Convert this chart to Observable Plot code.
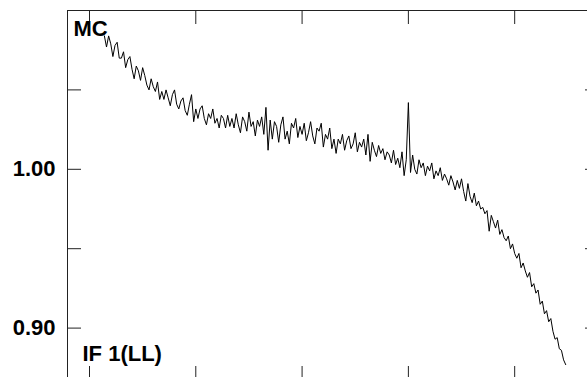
<!DOCTYPE html>
<html>
<head>
<meta charset="utf-8">
<script src="https://cdn.jsdelivr.net/npm/d3@7"></script>
<script src="https://cdn.jsdelivr.net/npm/@observablehq/plot@0.6"></script>
<style>
  html, body { margin: 0; padding: 0; overflow: hidden; background: white; }
  #chart { width: 587px; height: 377px; overflow: hidden; }
</style>
</head>
<body>
<div id="chart"></div>
<script>
// ---- data ----
const xStart = 114;
const xStep = 2;
const values = [
  1.084,1.077,1.084,1.079,1.071,1.078,1.080,1.070,1.070,1.074,1.064,1.069,
  1.071,1.063,1.057,1.065,1.062,1.056,1.064,1.059,1.053,1.050,1.057,1.052,1.049,1.055,1.044,1.049,
  1.044,1.050,1.045,1.040,1.047,1.050,1.041,1.038,1.043,1.045,1.037,1.034,1.041,1.047,1.030,1.038,
  1.032,1.038,1.040,1.032,1.028,1.035,1.032,1.038,1.029,1.032,1.026,1.034,1.032,1.026,1.034,1.027,
  1.032,1.026,1.035,1.028,1.023,1.033,1.030,1.024,1.036,1.027,1.030,1.021,1.031,1.027,1.033,1.022,1.039,1.012,1.031,1.019,
  1.030,1.027,1.017,1.028,1.033,1.019,1.024,1.016,1.029,1.026,1.032,1.020,1.027,1.022,
  1.029,1.018,1.023,1.030,1.021,1.016,1.026,1.024,1.029,1.014,1.022,1.019,1.026,1.013,1.019,
  1.010,1.019,1.016,1.022,1.012,1.018,1.021,1.013,1.016,1.023,1.011,1.017,1.014,1.019,1.009,1.022,1.005,
  1.017,1.012,1.008,1.015,1.010,1.013,1.006,1.011,1.009,1.004,1.012,1.003,1.007,1.001,1.011,0.996,1.006,
  1.042,0.998,1.009,1.000,0.997,1.006,1.001,
  1.004,0.996,1.002,0.999,1.004,0.994,0.999,0.996,1.001,0.993,0.997,0.994,0.990,0.996,0.992,0.987,0.993,
  0.988,0.994,0.986,0.980,0.991,0.983,0.979,0.985,0.977,0.980,0.975,0.976,0.972,0.974,0.961,0.971,0.967,0.963,0.968,0.959,
  0.962,0.957,0.955,0.958,0.950,0.953,0.947,0.944,0.947,0.938,0.941,0.936,0.932,0.935,0.926,0.928,
  0.922,0.924,0.915,0.917,0.909,0.911,0.904,0.906,0.898,0.893,0.894,0.887,0.886,0.880,0.877
];
const xTicks = [100, 200, 300, 400, 500];
const yTicks = [0.90, 0.95, 1.00, 1.05];
const yLabels = [0.90, 1.00];
const topLabel = "MC";
const bottomLabel = "IF 1(LL)";

const data = values.map((v, i) => ({x: xStart + i * xStep, y: v}));

// ---- layout ----
const W = 600, H = 382;
const mL = 67, mR = 1, mT = 10, mB = 2;
const innerW = W - mL - mR, innerH = H - mT - mB;
const tick = 14;
const font = "'Liberation Sans', Arial, Helvetica, sans-serif";
const ink = "#222";

const chart = Plot.plot({
  width: W,
  height: H,
  marginLeft: mL, marginRight: mR, marginTop: mT, marginBottom: mB,
  style: {maxWidth: "none", fontFamily: font, background: "white", overflow: "visible"},
  x: {domain: [79.3, 579.8], axis: null},
  y: {domain: [0.867, 1.100], axis: null},
  marks: [
    Plot.frame({stroke: ink, strokeWidth: 1}),
    Plot.ruleX(xTicks, {x: d => d, insetBottom: innerH - tick, stroke: ink}),
    Plot.ruleX(xTicks, {x: d => d, insetTop: innerH - tick, stroke: ink}),
    Plot.ruleY(yTicks, {y: d => d, insetRight: innerW - tick, stroke: ink}),
    Plot.ruleY(yTicks, {y: d => d, insetLeft: innerW - tick, stroke: ink}),
    Plot.line(data, {x: "x", y: "y", stroke: "#000", strokeWidth: 1}),
    Plot.text(yLabels, {y: d => d, text: d => d.toFixed(2), frameAnchor: "left", textAnchor: "end", dx: -12, fontSize: 22, fontWeight: "bold", fill: "#000"}),
    Plot.text([topLabel], {frameAnchor: "top-left", text: d => d, textAnchor: "start", lineAnchor: "top", dx: 6, dy: 10, fontSize: 22, fontWeight: "bold", fill: "#000"}),
    Plot.text([bottomLabel], {frameAnchor: "bottom-left", text: d => d, textAnchor: "start", lineAnchor: "middle", dx: 15, dy: -27, fontSize: 22, fontWeight: "bold", fill: "#000"})
  ]
});
document.getElementById("chart").append(chart);
</script>
</body>
</html>
